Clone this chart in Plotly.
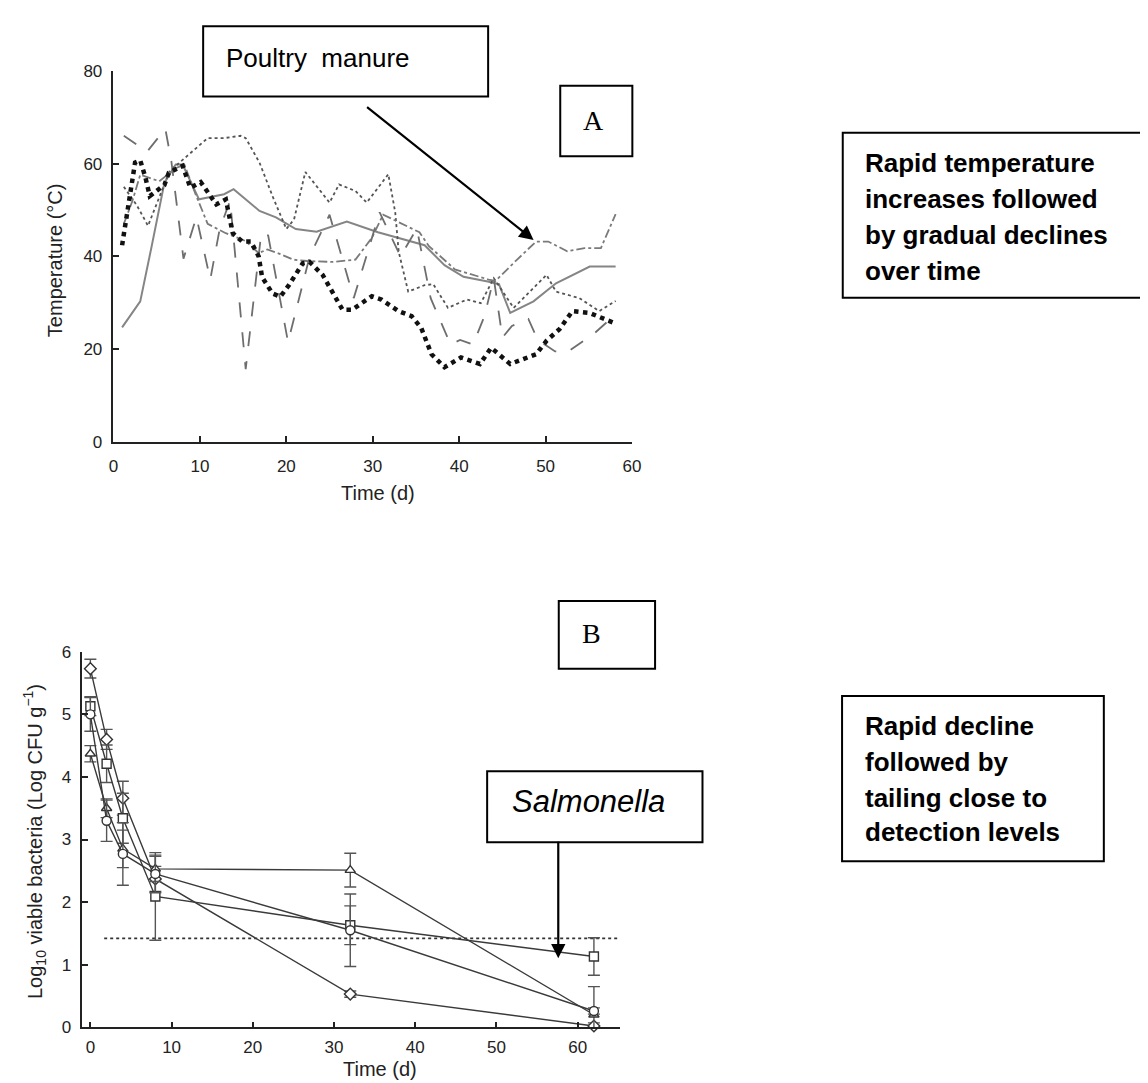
import plotly.graph_objects as go

W, H = 1148, 1083

# ---------------- Panel A data (temperature, °C vs time, d) ----------------
solid_x = [1.0, 3.1, 4.4, 5.9, 7.2, 8.0, 9.9, 12.8, 13.9, 16.9, 18.8, 21.1, 23.5, 27.0, 30.6, 34.1, 36.0, 38.3, 40.5, 43.3, 44.6, 45.9, 48.6, 51.2, 55.1, 58.1]
solid_y = [24.7, 30.3, 42.0, 55.9, 59.8, 59.8, 52.3, 53.4, 54.5, 49.8, 48.4, 45.9, 45.3, 47.5, 45.2, 43.4, 42.4, 38.1, 35.6, 34.6, 34.0, 27.8, 30.3, 34.2, 37.8, 37.8]

dotted_x = [1.2, 2.7, 4.0, 6.5, 8.5, 10.9, 12.8, 14.7, 15.3, 16.9, 18.4, 20.0, 20.9, 22.2, 25.0, 26.1, 28.0, 29.3, 31.8, 32.6, 33.0, 34.1, 36.0, 37.0, 38.7, 40.9, 42.5, 44.0, 46.3, 50.1, 51.2, 53.9, 56.2, 58.1]
dotted_y = [55.0, 51.0, 46.6, 58.4, 61.6, 65.5, 65.5, 66.0, 65.5, 60.2, 53.0, 45.9, 48.0, 58.2, 51.6, 55.5, 54.1, 51.6, 57.7, 49.5, 41.0, 32.4, 33.8, 34.0, 28.9, 30.7, 29.9, 35.3, 28.9, 36.0, 32.4, 31.0, 28.2, 30.4]

heavy_x = [1.0, 1.6, 2.5, 3.1, 3.7, 4.2, 5.9, 6.4, 8.0, 8.9, 10.1, 11.9, 13.0, 13.8, 14.9, 15.9, 16.8, 17.2, 18.4, 19.3, 20.3, 21.9, 22.7, 24.2, 26.5, 27.6, 29.9, 31.0, 33.0, 34.5, 35.6, 36.8, 38.3, 40.2, 42.4, 43.7, 45.9, 48.9, 50.1, 51.6, 53.1, 55.1, 57.7, 58.1]
heavy_y = [42.4, 50.2, 60.2, 60.7, 57.0, 53.0, 55.4, 58.0, 59.5, 54.8, 56.0, 51.2, 52.3, 45.0, 43.2, 43.2, 40.0, 35.5, 32.0, 31.3, 33.8, 38.5, 38.8, 36.0, 28.5, 28.5, 31.4, 30.7, 28.2, 27.1, 24.6, 18.9, 16.1, 18.2, 16.8, 20.3, 16.8, 18.9, 21.8, 24.3, 28.2, 27.8, 26.0, 25.5]

dashdot_x = [1.2, 2.2, 3.1, 5.3, 7.2, 8.2, 9.5, 10.9, 13.0, 13.7, 15.3, 16.8, 17.8, 19.3, 20.8, 22.4, 25.4, 28.0, 29.9, 31.2, 32.7, 35.4, 36.5, 39.5, 43.4, 44.2, 46.7, 48.9, 50.3, 52.5, 54.5, 56.4, 58.1]
dashdot_y = [47.0, 52.0, 57.6, 56.2, 59.0, 59.8, 53.4, 47.0, 45.0, 44.5, 43.3, 40.7, 41.5, 40.5, 39.3, 39.0, 38.8, 39.3, 44.0, 49.0, 47.7, 45.2, 42.2, 37.2, 35.0, 34.7, 39.3, 43.2, 43.2, 41.1, 41.8, 41.8, 49.1]

longdash_x = [1.2, 3.9, 6.0, 6.7, 8.1, 9.6, 11.2, 12.3, 13.5, 15.3, 17.1, 17.9, 20.2, 22.7, 25.0, 27.8, 30.8, 33.2, 35.1, 36.7, 39.0, 40.1, 41.6, 42.9, 44.0, 45.0, 46.1, 48.0, 49.1, 51.1, 52.6, 55.7, 58.1]
longdash_y = [66.0, 62.6, 67.5, 60.5, 39.5, 48.5, 35.0, 46.0, 52.0, 15.7, 45.0, 44.5, 21.5, 40.0, 49.0, 31.0, 49.5, 40.0, 46.0, 31.0, 21.0, 22.0, 21.0, 27.0, 35.3, 22.5, 25.0, 26.5, 22.0, 19.5, 19.5, 23.5, 27.5]

a_xticks = [0, 10, 20, 30, 40, 50, 60]
a_yticks = [0, 20, 40, 60, 80]

# ---------------- Panel B data (log10 CFU/g vs time, d) ----------------
b_time = [0, 2, 4, 8, 32, 62]
diamond_y = [5.73, 4.60, 3.66, 2.37, 0.53, 0.02]
diamond_err = [0.15, 0.16, 0.27, 0.20, 0.05, 0.05]
square_y = [5.13, 4.21, 3.34, 2.09, 1.63, 1.13]
square_err = [0.15, 0.30, 0.40, 0.70, 0.31, 0.30]
triangle_y = [4.37, 3.50, 2.85, 2.53, 2.51, 0.20]
triangle_err = [0.13, 0.15, 0.30, 0.20, 0.27, 0.45]
circle_y = [5.00, 3.30, 2.77, 2.45, 1.55, 0.26]
circle_err = [0.27, 0.33, 0.50, 0.30, 0.58, 0.05]
detect_x = [1.7, 65.5]
detect_y = [1.42, 1.42]

b_xticks = [0, 10, 20, 30, 40, 50, 60]
b_yticks = [0, 1, 2, 3, 4, 5, 6]


def px(x):
    return x / W


def py(y):
    return 1 - y / H


fig = go.Figure()

a_styles = [
    (solid_x, solid_y, dict(color="#858585", width=2.0, dash="solid")),
    (dotted_x, dotted_y, dict(color="#555555", width=1.8, dash="dot")),
    (dashdot_x, dashdot_y, dict(color="#7a7a7a", width=1.8, dash="dashdot")),
    (longdash_x, longdash_y, dict(color="#6e6e6e", width=1.8, dash="longdash")),
    (heavy_x, heavy_y, dict(color="#111111", width=4.5, dash="dot")),
]
for xs, ys, ln in a_styles:
    fig.add_trace(go.Scatter(x=xs, y=ys, mode="lines", line=ln, xaxis="x", yaxis="y",
                             showlegend=False, hoverinfo="skip"))

fig.add_trace(go.Scatter(x=detect_x, y=detect_y, mode="lines", xaxis="x2", yaxis="y2",
                         line=dict(color="#333333", width=1.6, dash="dot"), showlegend=False))
b_series = [
    (diamond_y, diamond_err, "diamond"),
    (square_y, square_err, "square"),
    (triangle_y, triangle_err, "triangle-up"),
    (circle_y, circle_err, "circle"),
]
for ys, es, sym in b_series:
    fig.add_trace(go.Scatter(
        x=b_time, y=ys, mode="lines+markers", xaxis="x2", yaxis="y2",
        line=dict(color="#3a3a3a", width=1.4),
        marker=dict(symbol=sym, size=9, color="white", line=dict(width=1.4, color="#333333")),
        error_y=dict(type="data", array=es, visible=True, color="#555555", thickness=1.4, width=6),
        cliponaxis=False, showlegend=False))

tick_font = dict(family="Liberation Sans, Arial, sans-serif", size=17, color="#222222")
axis_common = dict(showline=True, linecolor="#222222", linewidth=1.5, ticks="inside",
                   ticklen=6, tickwidth=1.5, tickcolor="#222222", showgrid=False,
                   zeroline=False, tickfont=tick_font)

fig.update_layout(
    xaxis=dict(domain=[px(101.7), px(626.7)], range=[0, 60], anchor="y",
               tickvals=a_xticks, ticklabelstandoff=8, **axis_common),
    yaxis=dict(domain=[py(432.5), py(54.8)], range=[0, 80], anchor="x",
               tickvals=a_yticks, ticklabelstandoff=6, **axis_common),
    xaxis2=dict(domain=[px(70.1), px(614.4)], range=[-1, 65.2], anchor="y2",
                tickvals=b_xticks, ticklabelstandoff=4, **axis_common),
    yaxis2=dict(domain=[py(1028.3), py(646.1)], range=[0, 6], anchor="x2",
                tickvals=b_yticks, ticklabelstandoff=6, **axis_common),
    width=W, height=H, margin=dict(l=0, r=0, t=0, b=0),
    paper_bgcolor="white", plot_bgcolor="white",
)

title_font = dict(family="Liberation Sans, Arial, sans-serif", size=20, color="#222222")
body_font = dict(family="Liberation Sans, Arial, sans-serif", size=26, color="black")
serif_font = dict(family="Liberation Serif, Times New Roman, serif", size=28, color="black")

ann = []


def text(x, y, s, font, xanchor="center", angle=0):
    ann.append(dict(x=px(x), y=py(y), xref="paper", yref="paper", text=s, showarrow=False,
                    font=font, xanchor=xanchor, yanchor="middle", textangle=angle))


text(370, 485, "Time (d)", title_font)
text(42, 247, "Temperature (°C)", title_font, angle=-90)
text(372, 1071, "Time (d)", title_font)
text(22, 839, "Log<sub>10</sub> viable bacteria (Log CFU g<sup>−1</sup>)", title_font, angle=-90)

text(213.5, 42, "Poultry\u00a0 manure", body_font, xanchor="left")
text(588, 105, "A", serif_font)
text(586, 628, "B", serif_font)
text(503, 799, "<i>Salmonella</i>", dict(family="Liberation Sans, Arial, sans-serif", size=31, color="black"), xanchor="left")

for s, yy in zip(["<b>Rapid temperature</b>", "<b>increases followed</b>", "<b>by gradual declines</b>", "<b>over time</b>"],
                 [149, 185.7, 222.3, 258.3]):
    text(860, yy, s, body_font, xanchor="left")
for s, yy in zip(["<b>Rapid decline</b>", "<b>followed by</b>", "<b>tailing close to</b>", "<b>detection levels</b>"],
                 [721.7, 758, 795, 830]):
    text(860.7, yy, s, body_font, xanchor="left")

ann.append(dict(x=px(527), y=py(227), ax=359 - 527, ay=93 - 227, xref="paper", yref="paper",
                axref="pixel", ayref="pixel", text="", showarrow=True, arrowhead=2,
                arrowsize=1.3, arrowwidth=2.2, arrowcolor="black", standoff=0))
ann.append(dict(x=px(552), y=py(958), ax=0, ay=840 - 958, xref="paper", yref="paper",
                axref="pixel", ayref="pixel", text="", showarrow=True, arrowhead=2,
                arrowsize=1.3, arrowwidth=2.2, arrowcolor="black", standoff=0))

fig.update_layout(annotations=ann)

boxes = [
    (192.5, 9.3, 481, 81),
    (554, 70, 627, 141.7),
    (840, 117.7, 1150, 285.7),
    (552.5, 594.5, 650, 663.5),
    (480, 767.7, 698, 840),
    (839.3, 691, 1104.3, 859.3),
]
shapes = []
for x0, y0, x1, y1 in boxes:
    shapes.append(dict(type="rect", xref="paper", yref="paper", x0=px(x0), x1=px(x1),
                       y0=py(y1), y1=py(y0), line=dict(color="black", width=2),
                       fillcolor="rgba(0,0,0,0)"))
fig.update_layout(shapes=shapes)

fig.write_html("out.html")
